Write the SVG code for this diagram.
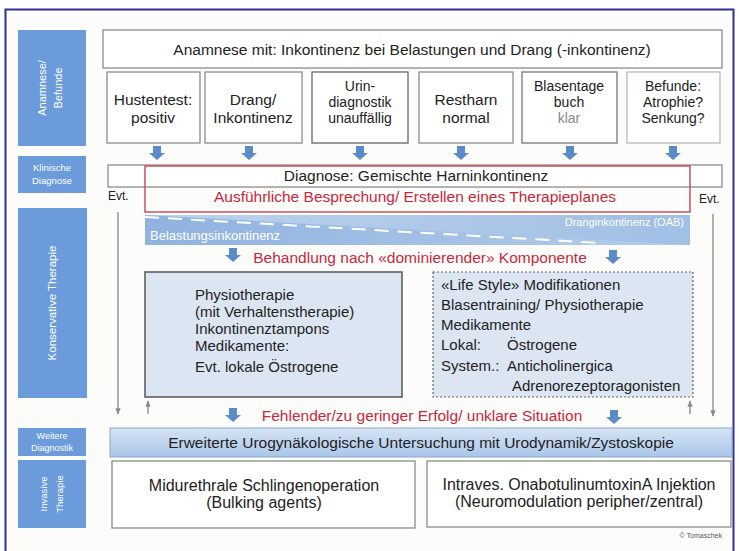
<svg xmlns="http://www.w3.org/2000/svg" width="739" height="551" viewBox="0 0 739 551">
<defs>
<style>
text{font-family:"Liberation Sans",Arial,sans-serif;}
.side{fill:#6b9bdb;}
.st{fill:#ffffff;font-size:11px;}
.box{fill:#ffffff;stroke:#8c8c8c;stroke-width:1.3;}
.t{fill:#222;font-size:15.5px;}
.t3{fill:#222;font-size:14px;text-anchor:middle;}
.tc{text-anchor:middle;}
.red{fill:#c8283c;font-size:15.5px;}
.th{fill:#222;font-size:15px;}
.ln{stroke:#888;stroke-width:1.3;fill:none;}
.blk{fill:#5b8cc8;}
</style>
<linearGradient id="gBand" x1="0" y1="0" x2="1" y2="0">
<stop offset="0" stop-color="#8fb2df"/>
<stop offset="1" stop-color="#b4cdea"/>
</linearGradient>
<linearGradient id="gBand2" x1="0" y1="0" x2="1" y2="0">
<stop offset="0" stop-color="#c4d8ef"/>
<stop offset="1" stop-color="#9dbde4"/>
</linearGradient>
<linearGradient id="gBar" x1="0" y1="0" x2="0" y2="1">
<stop offset="0" stop-color="#d6e4f4"/>
<stop offset="1" stop-color="#a9c6e8"/>
</linearGradient>
<marker id="ah" viewBox="0 0 10 10" refX="9" refY="5" markerWidth="5" markerHeight="5" orient="auto">
<path d="M0,1 L10,5 L0,9 z" fill="#888"/>
</marker>
<path id="barrow" d="M-4,0 H4 V7 H8 L0,14 L-8,7 H-4 z"/>
</defs>
<rect x="0" y="0" width="739" height="551" fill="#ffffff"/>
<rect x="5.5" y="9.5" width="728" height="545" fill="#fcfcfa" stroke="#2e3192" stroke-width="2"/>

<g id="sidebar">
<rect class="side" x="18" y="30" width="68" height="116"/>
<text class="st tc" transform="translate(46,88) rotate(-90)">Anamnese/</text>
<text class="st tc" transform="translate(62,88) rotate(-90)">Befunde</text>
<rect class="side" x="18" y="156" width="68" height="37"/>
<text class="st tc" x="52" y="171" style="font-size:9.5px">Klinische</text>
<text class="st tc" x="52" y="184" style="font-size:9.5px">Diagnose</text>
<rect class="side" x="18" y="208" width="69" height="190"/>
<text class="st tc" transform="translate(56,303) rotate(-90)" style="font-size:11.5px">Konservative Therapie</text>
<rect class="side" x="18" y="428" width="68" height="28"/>
<text class="st tc" x="52" y="439" style="font-size:9px">Weitere</text>
<text class="st tc" x="52" y="451" style="font-size:9px">Diagnostik</text>
<rect class="side" x="18" y="460" width="68" height="68"/>
<text class="st tc" transform="translate(47,494) rotate(-90)" style="font-size:9.5px">Invasive</text>
<text class="st tc" transform="translate(63,494) rotate(-90)" style="font-size:9.5px">Therapie</text>
</g>

<g id="anamnese">
<rect class="box" x="103" y="30" width="619" height="38"/>
<text class="t tc" x="412" y="55">Anamnese mit: Inkontinenz bei Belastungen und Drang (-inkontinenz)</text>
</g>

<g id="hustentest">
<rect class="box" x="107" y="72" width="93" height="71"/>
<text class="t tc" x="153" y="105">Hustentest:</text>
<text class="t tc" x="153" y="123">positiv</text>
</g>
<g id="drang">
<rect class="box" x="205" y="72" width="97" height="71"/>
<text class="t tc" x="253" y="105">Drang/</text>
<text class="t tc" x="253" y="123">Inkontinenz</text>
</g>
<g id="urin">
<rect class="box" x="312" y="72" width="96" height="71" style="stroke:#666"/>
<text class="t3" x="360" y="91">Urin-</text>
<text class="t3" x="360" y="107">diagnostik</text>
<text class="t3" x="360" y="123">unauffällig</text>
</g>
<g id="restharn">
<rect class="box" x="419" y="72" width="94" height="71"/>
<text class="t tc" x="466" y="105">Restharn</text>
<text class="t tc" x="466" y="123">normal</text>
</g>
<g id="blasentagebuch">
<rect class="box" x="522" y="72" width="95" height="71" style="stroke:#777"/>
<text class="t3" x="569" y="91">Blasentage</text>
<text class="t3" x="569" y="107">buch</text>
<text class="t3" x="569" y="123" style="fill:#888">klar</text>
</g>
<g id="befunde">
<rect class="box" x="627" y="72" width="93" height="71" style="stroke:#bbb"/>
<text class="t3" x="673" y="91">Befunde:</text>
<text class="t3" x="673" y="107">Atrophie?</text>
<text class="t3" x="673" y="123">Senkung?</text>
</g>

<g id="diagnose">
<rect class="box" x="108" y="165" width="614" height="22"/>
<rect x="145" y="166" width="545" height="46" fill="none" stroke="#c8505f" stroke-width="1.5"/>
<text class="t tc" x="416" y="181">Diagnose: Gemischte Harninkontinenz</text>
<text class="red tc" x="415" y="202">Ausführliche Besprechung/ Erstellen eines Therapieplanes</text>
<text class="t" x="108" y="200" style="font-size:12px">Evt.</text>
<text class="t" x="699" y="203" style="font-size:12px">Evt.</text>
</g>

<g id="band">
<rect x="145" y="215" width="545" height="30" fill="url(#gBand)"/>
<polygon points="145,215 690,215 690,245" fill="url(#gBand2)" opacity="0.85"/>
<line x1="145" y1="217" x2="600" y2="243" stroke="#ffffff" stroke-width="2" stroke-dasharray="14,9"/>
<text x="150" y="240" style="fill:#ffffff;font-size:13px">Belastungsinkontinenz</text>
<text x="684" y="226" style="fill:#ffffff;font-size:11px;text-anchor:end">Dranginkontinenz (OAB)</text>
</g>

<g id="behandlung">
<text class="red tc" x="420" y="263">Behandlung nach «dominierender» Komponente</text>
</g>

<g id="therapie-links">
<rect x="145" y="272" width="257" height="125" fill="#dce6f2" stroke="#555" stroke-width="1.5"/>
<text class="th" x="195" y="300">Physiotherapie</text>
<text class="th" x="195" y="317">(mit Verhaltenstherapie)</text>
<text class="th" x="195" y="334">Inkontinenztampons</text>
<text class="th" x="195" y="351">Medikamente:</text>
<text class="th" x="195" y="372">Evt. lokale Östrogene</text>
</g>

<g id="therapie-rechts">
<rect x="433" y="272" width="260" height="125" fill="#dce6f2" stroke="#666" stroke-width="1.2" stroke-dasharray="2,2"/>
<text class="th" x="441" y="290">«Life Style» Modifikationen</text>
<text class="th" x="441" y="310">Blasentraining/ Physiotherapie</text>
<text class="th" x="441" y="330">Medikamente</text>
<text class="th" x="441" y="350">Lokal:</text>
<text class="th" x="507" y="350">Östrogene</text>
<text class="th" x="441" y="371">System.:</text>
<text class="th" x="507" y="371">Anticholinergica</text>
<text class="th" x="512" y="391">Adrenorezeptoragonisten</text>
</g>

<g id="fehlender">
<text class="red tc" x="422" y="421">Fehlender/zu geringer Erfolg/ unklare Situation</text>
</g>

<g id="weitere-diagnostik">
<rect x="110" y="428" width="622" height="29" fill="url(#gBar)" stroke="#8aa6cc" stroke-width="1"/>
<text class="t tc" x="421" y="448">Erweiterte Urogynäkologische Untersuchung mit Urodynamik/Zystoskopie</text>
</g>

<g id="schlinge">
<rect class="box" x="112" y="461" width="303" height="67"/>
<text class="t tc" x="264" y="491" style="font-size:16px">Midurethrale Schlingenoperation</text>
<text class="t tc" x="264" y="508" style="font-size:16px">(Bulking agents)</text>
</g>

<g id="injektion">
<rect class="box" x="427" y="461" width="304" height="66"/>
<text class="t tc" x="579" y="490" style="font-size:16px">Intraves. OnabotulinumtoxinA Injektion</text>
<text class="t tc" x="579" y="507" style="font-size:16px">(Neuromodulation peripher/zentral)</text>
</g>

<text x="722" y="538" style="fill:#555;font-size:7px;text-anchor:end">© Tomaschek</text>

<g id="connectors">
<use href="#barrow" class="blk" x="157" y="146"/>
<use href="#barrow" class="blk" x="249" y="146"/>
<use href="#barrow" class="blk" x="360" y="146"/>
<use href="#barrow" class="blk" x="461" y="146"/>
<use href="#barrow" class="blk" x="570" y="146"/>
<use href="#barrow" class="blk" x="673" y="146"/>
<use href="#barrow" class="blk" x="233" y="248"/>
<use href="#barrow" class="blk" x="613" y="250"/>
<use href="#barrow" class="blk" x="233" y="408"/>
<use href="#barrow" class="blk" x="614" y="410"/>
<line class="ln" x1="118" y1="212" x2="118" y2="414" marker-end="url(#ah)"/>
<line class="ln" x1="713" y1="214" x2="713" y2="416" marker-end="url(#ah)"/>
<line class="ln" x1="148" y1="414" x2="148" y2="401" marker-end="url(#ah)"/>
<line class="ln" x1="690" y1="414" x2="690" y2="401" marker-end="url(#ah)"/>
</g>
</svg>
